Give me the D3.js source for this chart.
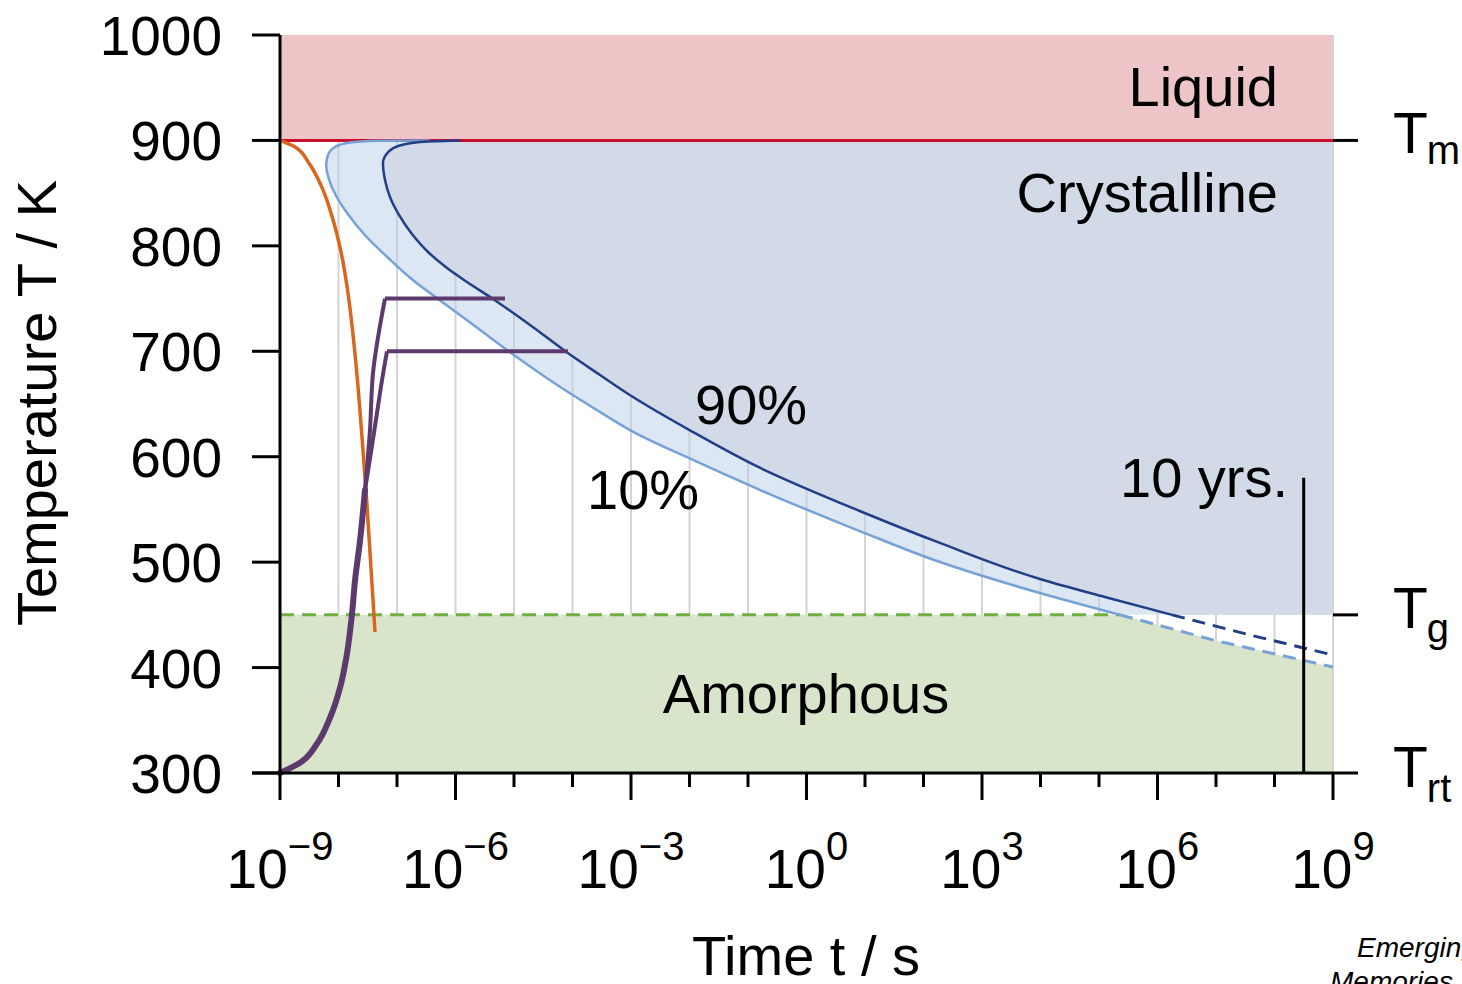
<!DOCTYPE html>
<html>
<head>
<meta charset="utf-8">
<script src="https://cdn.jsdelivr.net/npm/d3@7"></script>
<style>
  body { margin: 0; background: #fff; }
  svg { display: block; font-family: "Liberation Sans", Arial, sans-serif; }
</style>
</head>
<body>
<div class="chart"></div>
<script>
// temperatures (K) and time exponents (log10 t / s)
const tempTicks = [300, 400, 500, 600, 700, 800, 900, 1000];
const majorExp = [-9, -6, -3, 0, 3, 6, 9];
const decades = d3.range(-9, 10);
const Tm = 900, Tg = 450, Trt = 300;
const tenYears = Math.log10(10 * 365.25 * 86400);

// 10 % crystallised (light blue) - [log10 t, T]
const curve10 = [
  [-6.44, 899.9], [-7.29, 899.6], [-7.80, 898.0], [-8.06, 893.8], [-8.18, 886.2],
  [-8.21, 876.7], [-8.16, 862.5], [-8.04, 847.3], [-7.84, 830.2], [-7.55, 810.3],
  [-7.15, 788.5], [-6.73, 767.6], [-6.32, 750.5], [-5.75, 727.3], [-5.12, 701.2],
  [-4.21, 666.1], [-3.53, 642.4], [-3.02, 625.3], [-1.94, 596.9], [-0.79, 568.4],
  [0.91, 529.5], [2.28, 500.1], [3.99, 470.7], [5.36, 450]
];
const curve10Dash = [[5.36, 450], [7.02, 425.2], [9, 400.5]];

// 90 % crystallised (dark blue)
const curve90 = [
  [-5.92, 899.9], [-6.61, 898.5], [-6.98, 894.7], [-7.15, 889.0], [-7.24, 878.6],
  [-7.205, 862.5], [-7.12, 846.3], [-6.966, 829.3], [-6.744, 811.2], [-6.47, 794.2],
  [-6.145, 779.0], [-5.803, 765.7], [-5.359, 749.6], [-4.726, 724.9], [-4.128, 700.3],
  [-3.53, 677.5], [-3.02, 658.5], [-1.94, 623.4], [-0.79, 589.3], [0.91, 548.5],
  [2.28, 518.2], [3.99, 484.0], [5.10, 466.9], [6.25, 450]
];
const curve90Dash = [[6.25, 450], [7.58, 430.9], [9, 411.9]];

// melt-quench (orange)
const quench = [
  [-9, 900], [-8.75, 894.0], [-8.50, 878.0], [-8.28, 855.0], [-8.10, 826.0],
  [-7.96, 795.0], [-7.85, 760.0], [-7.76, 720.0], [-7.68, 675.0], [-7.60, 620.0],
  [-7.52, 560.0], [-7.44, 490.0], [-7.376, 433.7]
];

// SET heating pulses (purple)
const pulseBase = [
  [-9, 300], [-8.658, 309.7], [-8.368, 327.7], [-8.145, 352.4], [-7.974, 380.9],
  [-7.855, 413.2], [-7.769, 451.1], [-7.718, 482.4], [-7.632, 520.4], [-7.547, 568.4]
];
const pulseHigh = [[-7.547, 568.4], [-7.462, 625.3], [-7.41, 679.4], [-7.205, 750]];
const plateauHigh = [[-7.205, 750], [-5.154, 750]];
const pulseLow = [[-7.547, 568.4], [-7.444, 604.5], [-7.342, 641.5], [-7.256, 672.8], [-7.171, 700]];
const plateauLow = [[-7.171, 700], [-4.077, 700]];

const width = 1462, height = 984;
const x = d3.scaleLinear().domain([-9, 9]).range([280, 1333]);
const y = d3.scaleLinear().domain([300, 1000]).range([773, 35]);

const svg = d3.select(".chart").append("svg")
  .attr("width", width).attr("height", height);

const smooth = d3.line().x(d => x(d[0])).y(d => y(d[1])).curve(d3.curveMonotoneY);
const straight = d3.line().x(d => x(d[0])).y(d => y(d[1]));

// vertical grid
svg.append("g").selectAll("line").data(decades.slice(1)).join("line")
  .attr("x1", d => x(d)).attr("x2", d => x(d))
  .attr("y1", y(1000)).attr("y2", y(300))
  .attr("stroke", "#d4d4d4").attr("stroke-width", 2);

// amorphous region
svg.append("path")
  .attr("d", "M" + x(-9) + "," + y(Trt) + "L" + x(-9) + "," + y(Tg) +
    "L" + straight(curve10Dash).slice(1) + "L" + x(9) + "," + y(Trt) + "Z")
  .attr("fill", "#d9e5cb");

// band between 10 % and 90 %
svg.append("path")
  .attr("d", "M" + x(9) + "," + y(Tm) + "L" + smooth(curve10).slice(1) +
    "L" + x(9) + "," + y(Tg) + "Z")
  .attr("fill", "#bcd0ea").attr("fill-opacity", 0.5);

// crystalline region
svg.append("path")
  .attr("d", "M" + x(9) + "," + y(Tm) + "L" + smooth(curve90).slice(1) +
    "L" + x(9) + "," + y(Tg) + "Z")
  .attr("fill", "#d1dae6");

// liquid region
svg.append("rect")
  .attr("x", x(-9)).attr("y", y(1000))
  .attr("width", x(9) - x(-9)).attr("height", y(Tm) - y(1000))
  .attr("fill", "#edc5c7");

// right border
svg.append("line")
  .attr("x1", x(9)).attr("x2", x(9)).attr("y1", y(1000)).attr("y2", y(300))
  .attr("stroke", "#d4d4d4").attr("stroke-width", 2);

// Tg dashed line
svg.append("line")
  .attr("x1", x(-9)).attr("x2", x(curve10Dash[0][0]))
  .attr("y1", y(Tg)).attr("y2", y(Tg))
  .attr("stroke", "#6fb043").attr("stroke-width", 3)
  .attr("stroke-dasharray", "14,8");

// Tm line
svg.append("line")
  .attr("x1", x(-9)).attr("x2", x(9))
  .attr("y1", y(Tm)).attr("y2", y(Tm))
  .attr("stroke", "#c8102e").attr("stroke-width", 3);

// crystallisation curves
svg.append("path").attr("d", smooth(curve10)).attr("fill", "none")
  .attr("stroke", "#76a2d6").attr("stroke-width", 2.5);
svg.append("path").attr("d", straight(curve10Dash)).attr("fill", "none")
  .attr("stroke", "#76a2d6").attr("stroke-width", 3).attr("stroke-dasharray", "13,8");
svg.append("path").attr("d", smooth(curve90)).attr("fill", "none")
  .attr("stroke", "#213f86").attr("stroke-width", 2.5);
svg.append("path").attr("d", straight(curve90Dash)).attr("fill", "none")
  .attr("stroke", "#213f86").attr("stroke-width", 3).attr("stroke-dasharray", "13,8");

// quench and pulses
svg.append("path").attr("d", smooth(quench)).attr("fill", "none")
  .attr("stroke", "#d9661e").attr("stroke-width", 3.5);
svg.append("path").attr("d", smooth(pulseHigh)).attr("fill", "none")
  .attr("stroke", "#5d3a6d").attr("stroke-width", 4);
svg.append("path").attr("d", straight(plateauHigh)).attr("fill", "none")
  .attr("stroke", "#5d3a6d").attr("stroke-width", 4);
svg.append("path").attr("d", smooth(pulseLow)).attr("fill", "none")
  .attr("stroke", "#5d3a6d").attr("stroke-width", 4);
svg.append("path").attr("d", straight(plateauLow)).attr("fill", "none")
  .attr("stroke", "#5d3a6d").attr("stroke-width", 4);
svg.append("path").attr("d", smooth(pulseBase)).attr("fill", "none")
  .attr("stroke", "#5d3a6d").attr("stroke-width", 6).attr("stroke-linecap", "round");

// 10 years marker
svg.append("line")
  .attr("x1", x(tenYears)).attr("x2", x(tenYears))
  .attr("y1", y(580)).attr("y2", y(300))
  .attr("stroke", "#000").attr("stroke-width", 3);

// axes
const axes = svg.append("g").attr("stroke", "#000").attr("stroke-width", 3);
axes.append("line").attr("x1", x(-9)).attr("x2", x(-9)).attr("y1", y(1000)).attr("y2", y(300) + 27);
axes.append("line").attr("x1", x(-9) - 28).attr("x2", x(9) + 25).attr("y1", y(300)).attr("y2", y(300));
axes.selectAll(".yt").data(tempTicks).join("line")
  .attr("x1", x(-9) - 28).attr("x2", x(-9)).attr("y1", d => y(d)).attr("y2", d => y(d));
axes.selectAll(".xt").data(decades.slice(1)).join("line")
  .attr("x1", d => x(d)).attr("x2", d => x(d))
  .attr("y1", y(300)).attr("y2", d => y(300) + (majorExp.includes(d) ? 27 : 14));
axes.selectAll(".rt").data([Tm, Tg]).join("line")
  .attr("x1", x(9)).attr("x2", x(9) + 25).attr("y1", d => y(d)).attr("y2", d => y(d));

// tick labels
svg.append("g").selectAll("text").data(tempTicks).join("text")
  .attr("x", 222).attr("y", d => y(d) + 20)
  .attr("text-anchor", "end").attr("font-size", 55)
  .text(d => d);

const xl = svg.append("g").selectAll("text").data(majorExp).join("text")
  .attr("x", d => x(d)).attr("y", 888)
  .attr("text-anchor", "middle").attr("font-size", 55);
xl.append("tspan").text("10");
xl.append("tspan").attr("dy", -28).attr("font-size", 40)
  .text(d => (d < 0 ? "\u2212" + (-d) : d));

// axis titles
svg.append("text").attr("transform", "translate(56,403) rotate(-90)")
  .attr("text-anchor", "middle").attr("font-size", 56).text("Temperature T / K");
svg.append("text").attr("x", 806).attr("y", 975)
  .attr("text-anchor", "middle").attr("font-size", 56).text("Time t / s");

// region labels
const label = (tx, ty, txt, anchor) => svg.append("text")
  .attr("x", tx).attr("y", ty).attr("text-anchor", anchor || "start")
  .attr("font-size", 56).text(txt);
label(1278, 106, "Liquid", "end");
label(1278, 212, "Crystalline", "end");
label(695, 424, "90%");
label(587, 509, "10%");
label(1120, 497, "10 yrs.");
label(806, 713, "Amorphous", "middle");

// temperature markers on the right
const mark = (ty, main, sub, dy) => {
  const t = svg.append("text").attr("x", 1393).attr("y", ty).attr("font-size", 57);
  t.append("tspan").text(main);
  t.append("tspan").attr("dx", -1).attr("dy", dy).attr("font-size", 40).text(sub);
};
mark(153, "T", "m", 11);
mark(628, "T", "g", 14);
mark(787, "T", "rt", 15);

// source note
svg.append("text").attr("x", 1357).attr("y", 957).attr("font-size", 28)
  .attr("font-style", "italic").text("Emerging");
svg.append("text").attr("x", 1330).attr("y", 991).attr("font-size", 28)
  .attr("font-style", "italic").text("Memories");
</script>
</body>
</html>
